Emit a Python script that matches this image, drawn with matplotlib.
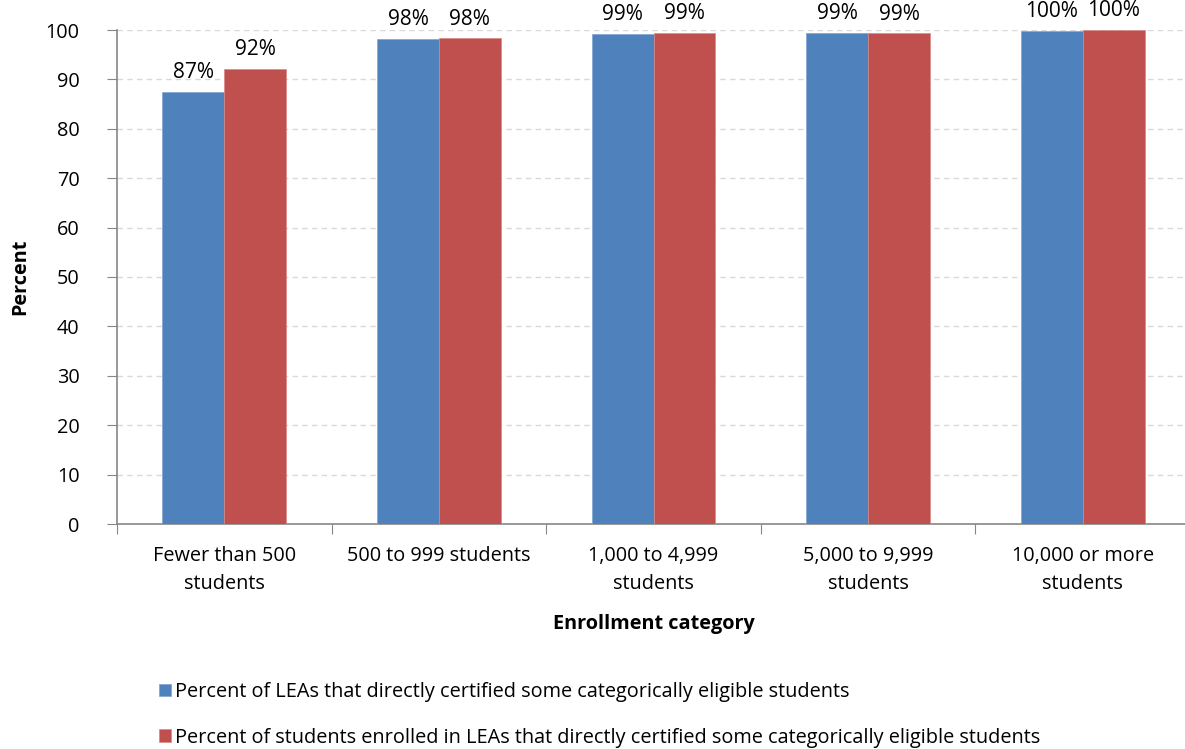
import matplotlib
matplotlib.use("Agg")
import matplotlib.pyplot as plt
import numpy as np

categories = ["Fewer than 500\nstudents", "500 to 999 students", "1,000 to 4,999\nstudents",
              "5,000 to 9,999\nstudents", "10,000 or more\nstudents"]
lea_pct = [87.4, 98.2, 99.2, 99.4, 99.8]
student_pct = [92.1, 98.3, 99.4, 99.3, 100.0]
series_names = ["Percent of LEAs that directly certified some categorically eligible students",
                "Percent of students enrolled in LEAs that directly certified some categorically eligible students"]
yticks = list(range(0, 101, 10))

plt.rcParams['font.family'] = ['Open Sans', 'DejaVu Sans']
FS = 14.3

fig = plt.figure(figsize=(11.85, 7.49), dpi=100)
ax = fig.add_axes([117/1185, 225/749, (1190-117)/1185, 494/749])

x = np.arange(len(categories))
w = 0.288
blue = "#4F81BD"
red = "#C0504D"
b1 = ax.bar(x - w/2, lea_pct, w, color=blue, edgecolor="#7FA3D0", linewidth=0.5, label=series_names[0], zorder=3)
b2 = ax.bar(x + w/2, student_pct, w, color=red, edgecolor="#D98886", linewidth=0.5, label=series_names[1], zorder=3)

for bars, vals in ((b1, lea_pct), (b2, student_pct)):
    for rect, v in zip(bars, vals):
        ax.text(rect.get_x() + rect.get_width()/2, v + 1.8, f"{round(v):.0f}%",
                ha="center", va="bottom", fontsize=15, color="black")

ax.set_xlim(-0.5, len(categories) - 0.5)
ax.set_ylim(0, 100)
ax.set_yticks(yticks)
ax.set_yticklabels([str(t) for t in yticks], fontsize=FS)
ax.yaxis.grid(True, linestyle=(0, (4, 3)), color="#D9D9D9", linewidth=1, zorder=0)
ax.set_axisbelow(True)

ax.set_xticks(np.arange(-0.5, len(categories), 1.0))
ax.set_xticklabels([])
ax.set_xticks(x, minor=True)
ax.set_xticklabels(categories, minor=True, fontsize=FS, linespacing=1.55)
ax.tick_params(axis="x", which="minor", length=0, pad=16)
ax.tick_params(axis="x", which="major", length=7, color="#868686", direction="out")
ax.tick_params(axis="y", length=7, color="#868686", direction="out", pad=20)

for s in ("top", "right"):
    ax.spines[s].set_visible(False)
for s in ("left", "bottom"):
    ax.spines[s].set_color("#868686")
    ax.spines[s].set_linewidth(1.2)

ax.set_xlabel("Enrollment category", fontsize=FS, fontweight="bold", labelpad=14)
ax.set_ylabel("Percent", fontsize=FS, fontweight="bold", labelpad=11)

fig.legend(handles=[b1, b2], labels=series_names, loc="upper left",
           bbox_to_anchor=(151/1185, 1 - 674/749), frameon=False, fontsize=FS,
           handlelength=0.6, handleheight=0.6, handletextpad=0.2, labelspacing=1.3,
           borderaxespad=0.0)

fig.savefig("out.png", dpi=100)
